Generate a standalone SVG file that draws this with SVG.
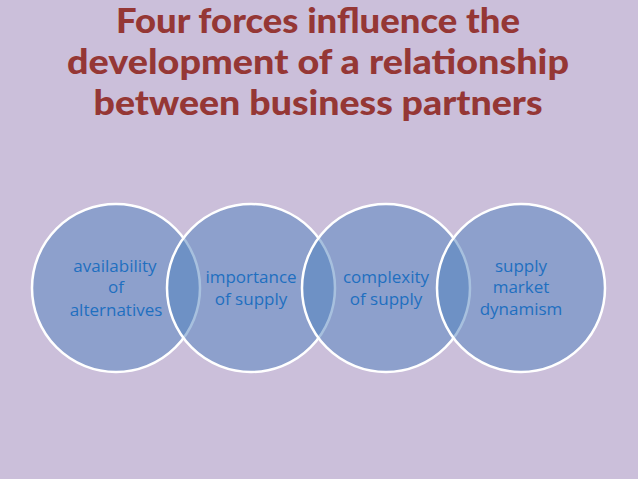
<svg xmlns="http://www.w3.org/2000/svg" width="638" height="479" viewBox="0 0 638 479">
<style>
.title{font-family:Lato,"DejaVu Sans",sans-serif;font-weight:900;font-size:34px;fill:#953735;text-anchor:middle}
.c{fill:#4F81BD;fill-opacity:0.5;stroke:#ffffff;stroke-width:2.5}
.t{font-family:"Open Sans","Liberation Sans",sans-serif;font-size:17px;fill:#1F6FC0;text-anchor:middle}
</style>
<rect width="638" height="479" fill="#CBBFDA"/>
<g id="title">
<text class="title" x="318" y="33" textLength="404" lengthAdjust="spacingAndGlyphs">Four forces influence the</text>
<text class="title" x="318" y="74" textLength="502" lengthAdjust="spacingAndGlyphs">development of a relationship</text>
<text class="title" x="318" y="115" textLength="449" lengthAdjust="spacingAndGlyphs">between business partners</text>
</g>
<g id="n1"><circle class="c" cx="116" cy="288" r="84"/>
<text class="t" x="115" y="272">availability</text><text class="t" x="116" y="293">of</text><text class="t" x="116" y="316">alternatives</text></g>
<g id="n2"><circle class="c" cx="251" cy="288" r="84"/>
<text class="t" x="251" y="283">importance</text><text class="t" x="251" y="305">of supply</text></g>
<g id="n3"><circle class="c" cx="386" cy="288" r="84"/>
<text class="t" x="386" y="283">complexity</text><text class="t" x="386" y="305">of supply</text></g>
<g id="n4"><circle class="c" cx="521" cy="288" r="84"/>
<text class="t" x="521" y="272">supply</text><text class="t" x="521" y="293">market</text><text class="t" x="521" y="315">dynamism</text></g>
<g id="connectors"/>
</svg>
